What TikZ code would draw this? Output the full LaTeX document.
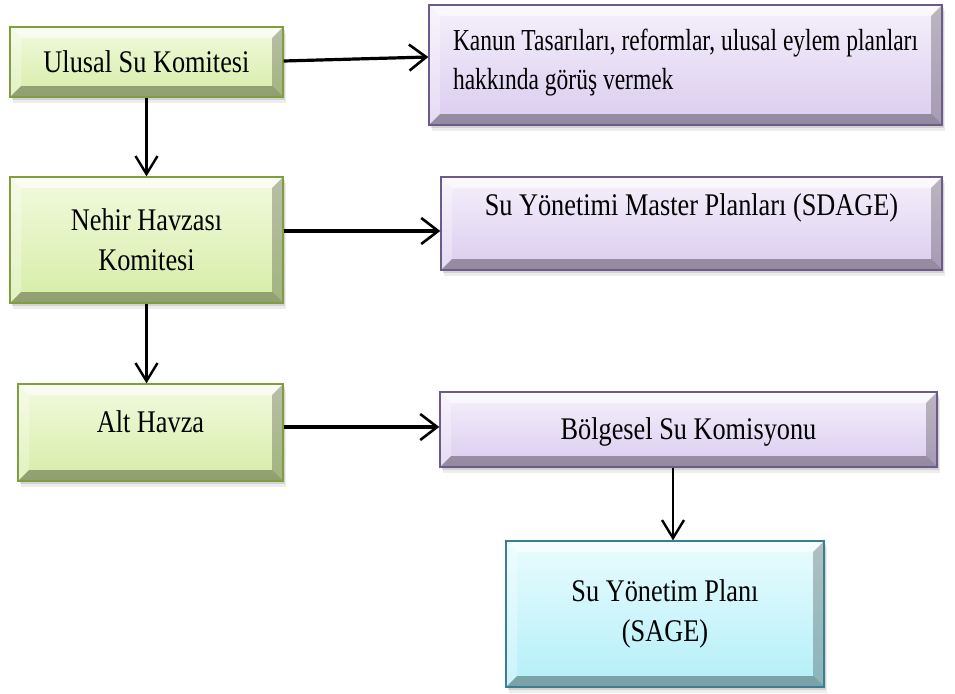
\documentclass[tikz,border=0pt]{standalone}
\usepackage{fontspec}
\setmainfont{Liberation Serif}
\newfontfamily\boxfont[FakeStretch=0.835]{Liberation Serif}
\newfontfamily\notefont[FakeStretch=0.77]{Liberation Serif}
\usetikzlibrary{arrows.meta,shadows}

\definecolor{grnT}{HTML}{F2FADF}
\definecolor{grnB}{HTML}{D6EDA6}
\definecolor{grnE}{HTML}{7F9F3F}
\definecolor{purT}{HTML}{F5F0FB}
\definecolor{purB}{HTML}{DACCEF}
\definecolor{purE}{HTML}{6B5A8A}
\definecolor{cyaT}{HTML}{E9FCFE}
\definecolor{cyaB}{HTML}{B3EFF8}
\definecolor{cyaE}{HTML}{3B7F8F}

\tikzset{
  panel/.style={rectangle, inner sep=0pt, line width=1.3pt,
    align=center, font=\boxfont\fontsize{31.5}{40}\selectfont,
    drop shadow={shadow xshift=1.5pt, shadow yshift=-3pt, opacity=.25},
    drop shadow={shadow xshift=2.5pt, shadow yshift=-6pt, opacity=.14},
    path picture={
      % bevelled rim: light top and left, dark right and bottom
      \fill[white, opacity=.6] (path picture bounding box.north west)
        -- (path picture bounding box.north east)
        -- ([shift={(-11pt,-11pt)}]path picture bounding box.north east)
        -- ([shift={(11pt,-11pt)}]path picture bounding box.north west) -- cycle;
      \fill[white, opacity=.3] (path picture bounding box.north west)
        -- ([shift={(11pt,-11pt)}]path picture bounding box.north west)
        -- ([shift={(11pt,11pt)}]path picture bounding box.south west)
        -- (path picture bounding box.south west) -- cycle;
      \fill[black, opacity=.24] (path picture bounding box.north east)
        -- (path picture bounding box.south east)
        -- ([shift={(-11pt,11pt)}]path picture bounding box.south east)
        -- ([shift={(-11pt,-11pt)}]path picture bounding box.north east) -- cycle;
      \fill[black, opacity=.32] (path picture bounding box.south west)
        -- (path picture bounding box.south east)
        -- ([shift={(-11pt,11pt)}]path picture bounding box.south east)
        -- ([shift={(11pt,11pt)}]path picture bounding box.south west) -- cycle;
    }},
  greenpanel/.style={panel, draw=grnE, top color=grnT, bottom color=grnB},
  purplepanel/.style={panel, draw=purE, top color=purT, bottom color=purB},
  cyanpanel/.style={panel, draw=cyaE, top color=cyaT, bottom color=cyaB},
  sidearrow/.style={line width=3.2pt,
    -{Straight Barb[length=17pt,width=26pt,line width=2.6pt]}},
  downarrow/.style={line width=2.4pt,
    -{Straight Barb[length=18pt,width=22pt,line width=2.4pt]}}
}

\begin{document}
\begin{tikzpicture}[x=1pt,y=-1pt]
\useasboundingbox (0,0) rectangle (955,693);

% left column: committees
\node[greenpanel, minimum width=273pt, minimum height=70pt,
      text height=21pt, text depth=0pt] (ulusal) at (146.5,62) {Ulusal Su Komitesi};
\node[greenpanel, minimum width=273pt, minimum height=126pt] (nehir) at (146.5,240)
      {Nehir Havzası\\Komitesi};
\node[greenpanel, minimum width=265pt, minimum height=97pt,
      text height=21pt, text depth=22pt] (alt) at (150.5,432.5) {Alt Havza};

% right column: tasks and plans
\node[purplepanel, minimum width=513pt, minimum height=120pt, align=left,
      text height=60pt, text depth=12pt,
      font=\notefont\fontsize{30.5}{39}\selectfont] (kanun) at (685.5,65)
      {Kanun Tasarıları, reformlar, ulusal eylem planları\\hakkında görüş vermek};
\node[purplepanel, minimum width=501pt, minimum height=93pt,
      text height=21pt, text depth=38pt] (sdage) at (691.5,223.5)
      {Su Yönetimi Master Planları (SDAGE)};
\node[purplepanel, minimum width=497pt, minimum height=75pt,
      text height=21pt, text depth=2pt] (bolgesel) at (688.5,429.5)
      {Bölgesel Su Komisyonu};
\node[cyanpanel, minimum width=318pt, minimum height=146pt] (sage) at (665,614)
      {Su Yönetim Planı\\(SAGE)};

% connectors
\draw[sidearrow] ([yshift=1pt]ulusal.east) -- ([yshift=8pt]kanun.west);
\draw[sidearrow] ([yshift=9pt]nehir.east) -- ([yshift=-7.5pt]sdage.west);
\draw[sidearrow] ([yshift=5.5pt]alt.east) -- ([yshift=2.5pt]bolgesel.west);
\draw[downarrow] (ulusal.south) -- (nehir.north);
\draw[downarrow] (nehir.south) -- (nehir.south |- alt.north);
\draw[downarrow] ([xshift=-15.5pt]bolgesel.south) -- ([xshift=-15.5pt]bolgesel.south |- sage.north);
\end{tikzpicture}
\end{document}
